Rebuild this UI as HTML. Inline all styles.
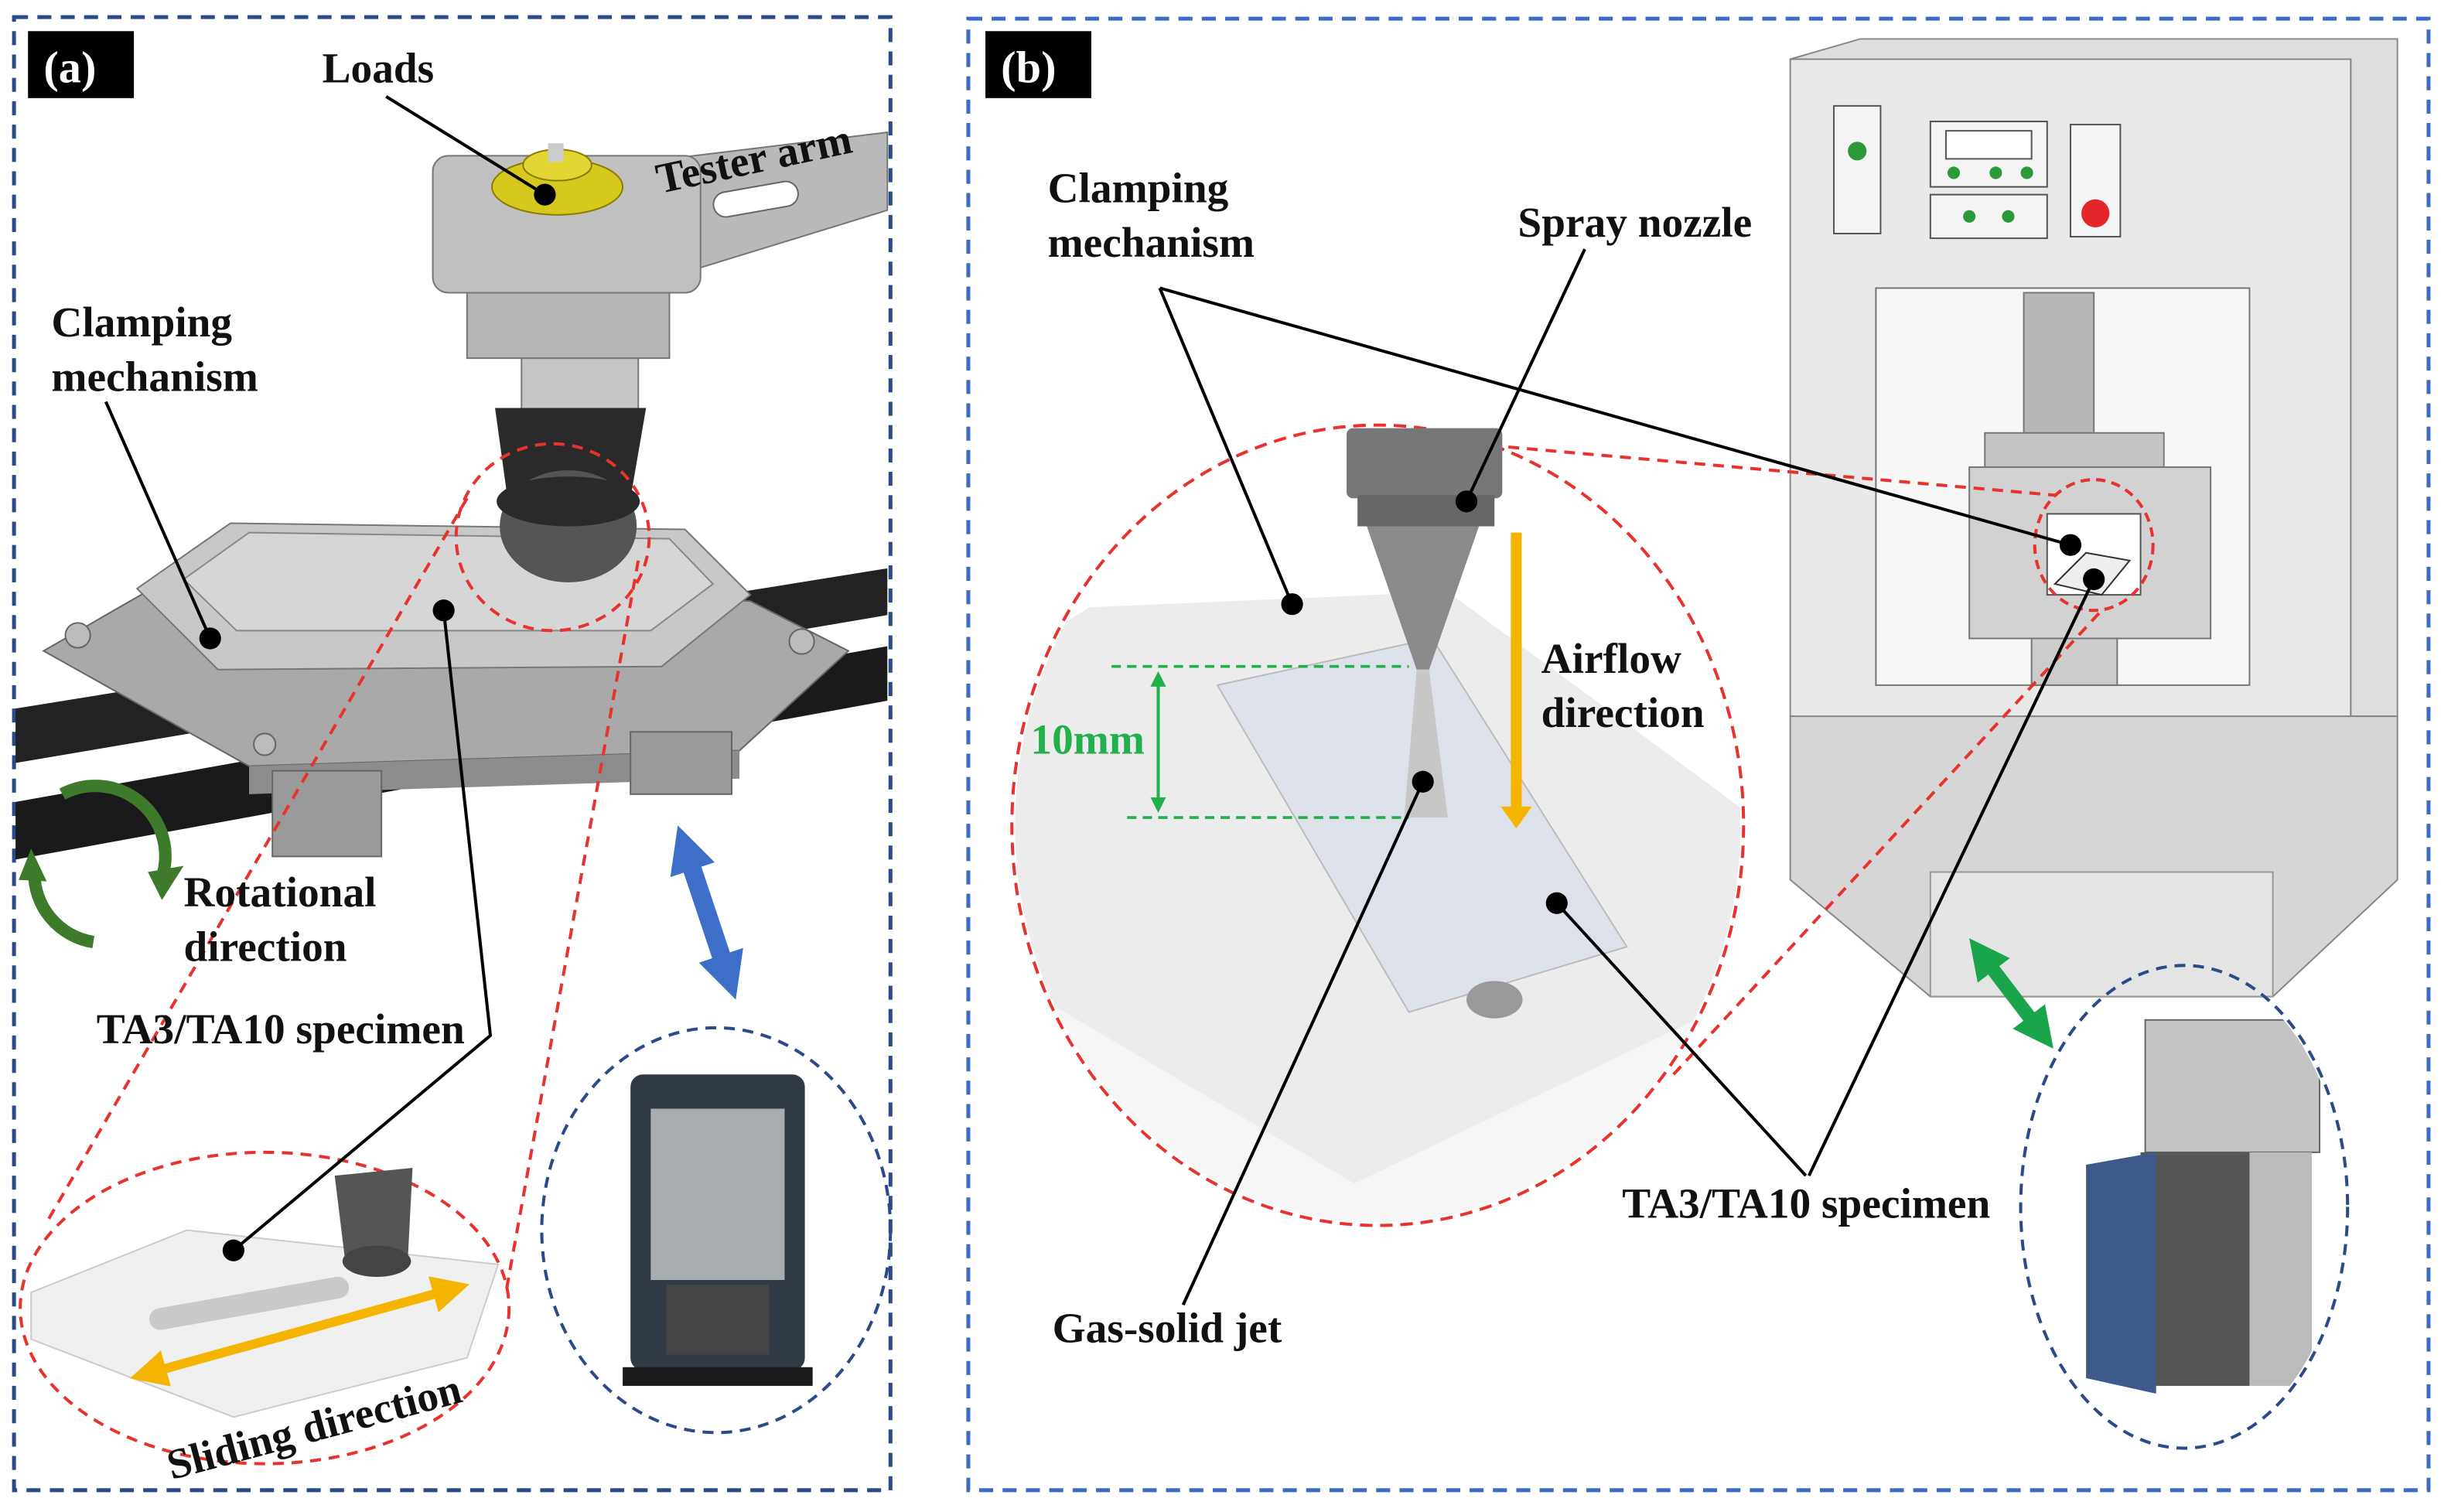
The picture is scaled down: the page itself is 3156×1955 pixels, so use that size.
<!DOCTYPE html>
<html><head><meta charset="utf-8"><style>
html,body{margin:0;padding:0;background:#fff;}
svg{display:block}
text{font-family:"Liberation Serif",serif;font-weight:bold;fill:#111;}
</style></head><body>
<svg width="3156" height="1955" viewBox="0 0 1568 971" preserveAspectRatio="none" xmlns="http://www.w3.org/2000/svg">
<defs>
<marker id="ah" viewBox="0 0 10 10" refX="5" refY="5" markerWidth="4" markerHeight="4" orient="auto-start-reverse"><path d="M0,0L10,5L0,10z" fill="#f5b400"/></marker>
<marker id="gh" viewBox="0 0 10 10" refX="3" refY="5" markerUnits="userSpaceOnUse" markerWidth="26" markerHeight="26" orient="auto-start-reverse"><path d="M0,0L10,5L0,10z" fill="#1aa54a"/></marker>
<marker id="bh" viewBox="0 0 10 10" refX="3" refY="5" markerUnits="userSpaceOnUse" markerWidth="30" markerHeight="30" orient="auto-start-reverse"><path d="M0,0L10,5L0,10z" fill="#3d6fc9"/></marker>
<marker id="sg" viewBox="0 0 10 10" refX="5" refY="5" markerWidth="5" markerHeight="5" orient="auto-start-reverse"><path d="M0,0L10,5L0,10z" fill="#22b04b"/></marker>
<clipPath id="ca"><ellipse cx="460" cy="790" rx="110" ry="128"/></clipPath>
<clipPath id="cb"><ellipse cx="1403" cy="775" rx="103" ry="153"/></clipPath>
<clipPath id="cc"><ellipse cx="885" cy="530" rx="233" ry="255"/></clipPath>
</defs>
<rect width="1568" height="971" fill="#fff"/>
<rect x="9" y="11" width="563" height="946" fill="none" stroke="#2b4a8a" stroke-width="2.5" stroke-dasharray="9,6"/>
<rect x="622" y="12" width="938" height="945" fill="none" stroke="#3b6bc4" stroke-width="2.5" stroke-dasharray="9,6"/>
<rect x="18" y="20" width="68" height="43" fill="#000"/><text x="28" y="53" font-size="29" style="fill:#fff">(a)</text>
<rect x="633" y="20" width="68" height="43" fill="#000"/><text x="643" y="53" font-size="29" style="fill:#fff">(b)</text>

<!-- ===== (a) ===== -->
<polygon points="10,455 570,365 570,395 10,490" fill="#222"/>
<polygon points="10,515 570,415 570,450 10,552" fill="#1a1a1a"/>
<polygon points="380,108 570,85 570,135 430,178 380,150" fill="#b9b9b9" stroke="#777"/>
<rect x="458" y="120" width="55" height="16" rx="8" fill="#fff" stroke="#666" transform="rotate(-10 485 128)"/>
<polygon points="28,418 108,372 482,386 545,418 475,482 160,492" fill="#a9a9a9" stroke="#666"/>
<polygon points="160,492 475,482 475,500 160,510" fill="#8c8c8c"/>
<rect x="175" y="495" width="70" height="55" fill="#9a9a9a" stroke="#666"/>
<rect x="405" y="470" width="65" height="40" fill="#9a9a9a" stroke="#666"/>
<polygon points="88,378 148,336 440,340 482,382 425,428 140,430" fill="#c8c8c8" stroke="#777"/>
<polygon points="118,372 160,342 430,346 458,375 418,405 152,405" fill="#d6d6d6" stroke="#888"/>
<circle cx="50" cy="408" r="8" fill="#bbb" stroke="#666"/><circle cx="515" cy="412" r="8" fill="#bbb" stroke="#666"/>
<circle cx="170" cy="478" r="7" fill="#bbb" stroke="#666"/>
<rect x="278" y="100" width="172" height="88" rx="10" fill="#c0c0c0" stroke="#777"/>
<ellipse cx="358" cy="120" rx="42" ry="18" fill="#d7c81e" stroke="#8a7e00"/>
<ellipse cx="358" cy="106" rx="22" ry="10" fill="#e3d632" stroke="#8a7e00"/>
<rect x="352" y="92" width="10" height="12" fill="#ccc"/>
<rect x="300" y="188" width="130" height="42" fill="#b5b5b5" stroke="#777"/>
<rect x="335" y="230" width="75" height="35" fill="#c6c6c6" stroke="#777"/>
<polygon points="318,262 415,262 405,320 326,320" fill="#2a2a2a"/>
<ellipse cx="365" cy="338" rx="44" ry="36" fill="#555"/>
<ellipse cx="365" cy="322" rx="46" ry="16" fill="#2a2a2a"/>
<ellipse cx="355" cy="345" rx="62" ry="60" fill="none" stroke="#e8322e" stroke-width="2" stroke-dasharray="7,5"/>
<line x1="300" y1="320" x2="30" y2="785" stroke="#e8322e" stroke-width="2" stroke-dasharray="7,5"/>
<line x1="410" y1="360" x2="325" y2="830" stroke="#e8322e" stroke-width="2" stroke-dasharray="7,5"/>
<ellipse cx="170" cy="840" rx="157" ry="100" fill="none" stroke="#e8322e" stroke-width="2" stroke-dasharray="7,5"/>
<polygon points="20,830 120,790 320,812 300,872 150,910 20,860" fill="#f0f0f0" stroke="#ccc"/>
<rect x="95" y="830" width="130" height="14" rx="7" fill="#c9c9c9" transform="rotate(-10 160 837)"/>
<polygon points="215,755 265,750 262,808 222,812" fill="#555"/>
<ellipse cx="242" cy="810" rx="22" ry="10" fill="#444"/>
<line x1="95" y1="882" x2="290" y2="828" stroke="#f5b400" stroke-width="6" marker-start="url(#ah)" marker-end="url(#ah)"/>
<text x="100" y="928" font-size="27.5" transform="rotate(-15 190 900)">Sliding direction</text>
<ellipse cx="460" cy="790" rx="112" ry="130" fill="none" stroke="#2b4a8a" stroke-width="2" stroke-dasharray="7,5"/>
<g clip-path="url(#ca)">
<rect x="405" y="690" width="112" height="190" rx="8" fill="#2f3a45"/>
<rect x="418" y="712" width="86" height="110" fill="#a8adb2"/>
<rect x="428" y="825" width="66" height="45" fill="#444"/>
<rect x="400" y="878" width="122" height="12" fill="#1a1a1a"/>
</g>
<line x1="442" y1="550" x2="466" y2="622" stroke="#3d6fc9" stroke-width="12" marker-start="url(#bh)" marker-end="url(#bh)"/>
<path d="M40,510 A45,45 0 0 1 105,560" fill="none" stroke="#3e7a2c" stroke-width="8"/>
<polygon points="95,560 118,556 104,578" fill="#3e7a2c"/>
<path d="M60,605 A45,45 0 0 1 22,560" fill="none" stroke="#3e7a2c" stroke-width="8"/>
<polygon points="12,565 30,566 20,545" fill="#3e7a2c"/>
<text x="207" y="53" font-size="27.5">Loads</text>
<line x1="248" y1="62" x2="350" y2="125" stroke="#000" stroke-width="2"/><circle cx="350" cy="125" r="7" fill="#000"/>
<text x="420" y="112" font-size="27.5" transform="rotate(-12 480 100)">Tester arm</text>
<text x="33" y="216" font-size="27.5">Clamping</text><text x="33" y="251" font-size="27.5">mechanism</text>
<line x1="68" y1="258" x2="135" y2="410" stroke="#000" stroke-width="2"/><circle cx="135" cy="410" r="7" fill="#000"/>
<circle cx="285" cy="392" r="7" fill="#000"/>
<polyline points="285,392 315,665 150,803" fill="none" stroke="#000" stroke-width="2"/><circle cx="150" cy="803" r="7" fill="#000"/>
<text x="118" y="582" font-size="27.5">Rotational</text><text x="118" y="617" font-size="27.5">direction</text>
<text x="62" y="670" font-size="27.5">TA3/TA10 specimen</text>

<!-- ===== (b) ===== -->
<polygon points="1150,38 1195,25 1540,25 1540,460 1510,460 1510,38" fill="#dedede" stroke="#888"/>
<rect x="1150" y="38" width="360" height="422" fill="#e9e9e9" stroke="#888"/>
<rect x="1178" y="68" width="30" height="82" fill="#f4f4f4" stroke="#555"/><circle cx="1193" cy="97" r="6" fill="#2a9a3a"/>
<rect x="1240" y="78" width="75" height="42" fill="#f4f4f4" stroke="#555"/><rect x="1250" y="84" width="55" height="18" fill="#fff" stroke="#555"/>
<circle cx="1255" cy="111" r="4" fill="#2a9a3a"/><circle cx="1282" cy="111" r="4" fill="#2a9a3a"/><circle cx="1302" cy="111" r="4" fill="#2a9a3a"/>
<rect x="1240" y="125" width="75" height="28" fill="#f4f4f4" stroke="#555"/><circle cx="1265" cy="139" r="4" fill="#2a9a3a"/><circle cx="1290" cy="139" r="4" fill="#2a9a3a"/>
<rect x="1330" y="80" width="32" height="72" fill="#f4f4f4" stroke="#555"/><circle cx="1346" cy="137" r="9" fill="#e3262a"/>
<rect x="1205" y="185" width="240" height="255" fill="#f7f7f7" stroke="#777"/>
<rect x="1300" y="188" width="45" height="95" fill="#b8b8b8" stroke="#777"/>
<rect x="1275" y="278" width="115" height="22" fill="#c4c4c4" stroke="#777"/>
<rect x="1265" y="300" width="155" height="110" fill="#d2d2d2" stroke="#777"/>
<rect x="1315" y="330" width="60" height="52" fill="#fff" stroke="#555"/>
<polygon points="1320,375 1340,355 1368,360 1350,382" fill="#eee" stroke="#333"/>
<rect x="1305" y="410" width="55" height="30" fill="#ccc" stroke="#777"/>
<polygon points="1150,460 1540,460 1540,565 1460,640 1240,640 1150,565" fill="#d6d6d6" stroke="#888"/>
<polygon points="1240,560 1460,560 1460,640 1240,640" fill="#e4e4e4" stroke="#999"/>
<ellipse cx="1345" cy="350" rx="38" ry="42" fill="none" stroke="#e8322e" stroke-width="2" stroke-dasharray="6,4"/>
<line x1="945" y1="285" x2="1320" y2="318" stroke="#e8322e" stroke-width="2" stroke-dasharray="7,5"/>
<line x1="1075" y1="690" x2="1350" y2="392" stroke="#e8322e" stroke-width="2" stroke-dasharray="7,5"/>
<g clip-path="url(#cc)">
<polygon points="650,420 700,390 930,380 1120,520 1120,790 650,790" fill="#ececec"/>
<polygon points="650,630 870,760 1120,640 1120,790 650,790" fill="#f6f6f6"/>
<polygon points="782,440 920,410 1045,608 905,650" fill="#dde1ea" stroke="#bbb"/>
<ellipse cx="960" cy="642" rx="18" ry="12" fill="#999"/>
</g>
<ellipse cx="885" cy="530" rx="235" ry="257" fill="none" stroke="#e8322e" stroke-width="2" stroke-dasharray="8,5"/>
<rect x="865" y="275" width="100" height="45" rx="4" fill="#777"/>
<rect x="872" y="318" width="88" height="20" fill="#666"/>
<polygon points="878,338 950,338 918,430 910,430" fill="#8a8a8a"/>
<polygon points="910,430 918,430 930,525 902,525" fill="#c7c7c7"/>
<line x1="714" y1="428" x2="905" y2="428" stroke="#22b04b" stroke-width="1.8" stroke-dasharray="6,4"/>
<line x1="724" y1="525" x2="905" y2="525" stroke="#22b04b" stroke-width="1.8" stroke-dasharray="6,4"/>
<line x1="744" y1="436" x2="744" y2="517" stroke="#22b04b" stroke-width="2" marker-start="url(#sg)" marker-end="url(#sg)"/>
<text x="662" y="484" font-size="27.5" style="fill:#22b04b">10mm</text>
<line x1="974" y1="342" x2="974" y2="520" stroke="#f5b400" stroke-width="7"/>
<polygon points="964,518 984,518 974,532" fill="#f5b400"/>
<ellipse cx="1403" cy="775" rx="105" ry="155" fill="none" stroke="#2b4a8a" stroke-width="2" stroke-dasharray="7,5"/>
<g clip-path="url(#cb)">
<rect x="1378" y="655" width="112" height="85" fill="#c4c4c4" stroke="#666"/>
<rect x="1440" y="740" width="45" height="150" fill="#bbb"/>
<rect x="1375" y="740" width="70" height="150" fill="#555"/>
<polygon points="1340,748 1385,740 1385,895 1340,885" fill="#3d5a8c"/>
</g>
<line x1="1276" y1="617" x2="1308" y2="659" stroke="#1aa54a" stroke-width="9" marker-start="url(#gh)" marker-end="url(#gh)"/>
<text x="673" y="130" font-size="27.5">Clamping</text><text x="673" y="165" font-size="27.5">mechanism</text>
<line x1="745" y1="185" x2="830" y2="388" stroke="#000" stroke-width="2"/><circle cx="830" cy="388" r="7" fill="#000"/>
<line x1="745" y1="185" x2="1330" y2="350" stroke="#000" stroke-width="2"/><circle cx="1330" cy="350" r="7" fill="#000"/>
<text x="975" y="152" font-size="27.5">Spray nozzle</text>
<line x1="1018" y1="160" x2="942" y2="322" stroke="#000" stroke-width="2"/><circle cx="942" cy="322" r="7" fill="#000"/>
<text x="990" y="432" font-size="27.5">Airflow</text><text x="990" y="467" font-size="27.5">direction</text>
<circle cx="914" cy="502" r="7" fill="#000"/>
<line x1="914" y1="502" x2="760" y2="838" stroke="#000" stroke-width="2"/>
<text x="676" y="862" font-size="27.5">Gas-solid jet</text>
<circle cx="1000" cy="580" r="7" fill="#000"/>
<line x1="1000" y1="580" x2="1160" y2="755" stroke="#000" stroke-width="2"/>
<circle cx="1345" cy="372" r="7" fill="#000"/>
<line x1="1345" y1="372" x2="1162" y2="755" stroke="#000" stroke-width="2"/>
<text x="1042" y="782" font-size="27.5">TA3/TA10 specimen</text>
</svg>
</body></html>
